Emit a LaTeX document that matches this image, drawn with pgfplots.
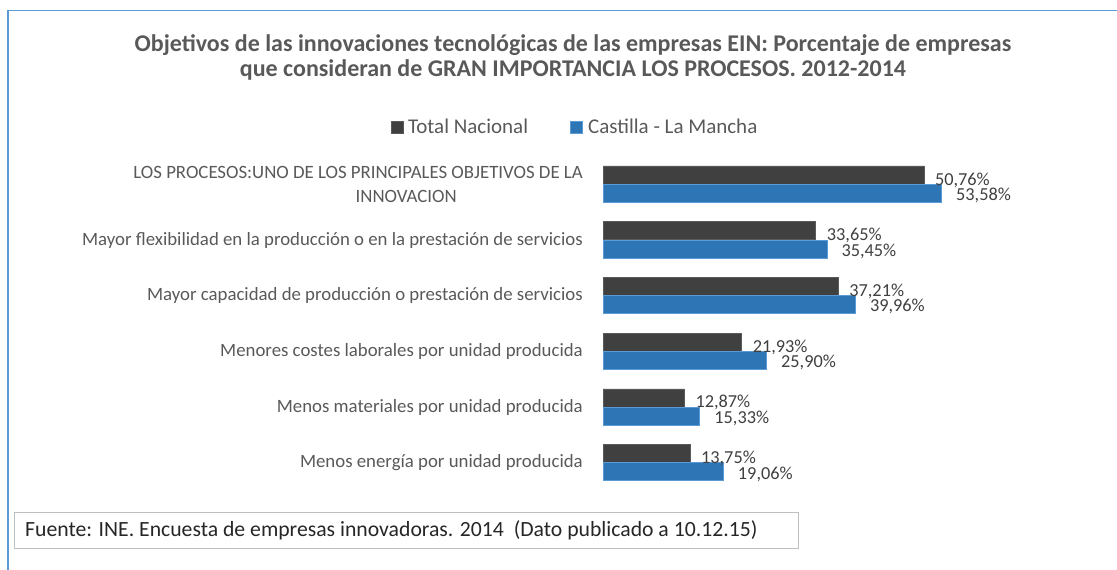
\documentclass[border=0pt]{standalone}
\usepackage{pgfplots}
\pgfplotsset{compat=1.18}
\usepackage{fontspec}
\setmainfont{Carlito}
\definecolor{txt}{HTML}{595959}
\definecolor{darkbar}{HTML}{404040}
\definecolor{darkedge}{HTML}{5A5A5A}
\definecolor{bluebar}{HTML}{2E75B6}
\definecolor{blueedge}{HTML}{5B9BD5}
\definecolor{frameblue}{HTML}{5B9BD5}
\begin{document}
\begin{tikzpicture}[x=1pt,y=1pt]
\path[use as bounding box] (0,0) rectangle (1117,570);
\draw[frameblue, line width=1.5pt] (8,0) -- (8,559.5) -- (1117,559.5);
\node[font=\bfseries\fontsize{24}{25}\selectfont, text=txt, align=center] at (573,512.5)
  {Objetivos de las innovaciones tecnológicas de las empresas EIN: Porcentaje de empresas\\que consideran de GRAN IMPORTANCIA LOS PROCESOS. 2012-2014};
\begin{axis}[
  at={(792.6pt,246.25pt)}, anchor=center,
  width=379.2pt, height=334.2pt, scale only axis,
  xmin=0, xmax=60, ymin=-0.5, ymax=5.5,
  axis line style={draw=none},
  major tick length=0pt,
  xtick=\empty,
  ytick={0,1,2,3,4,5},
  yticklabels={Menos energía por unidad producida,
    Menos materiales por unidad producida,
    Menores costes laborales por unidad producida,
    Mayor capacidad de producción o prestación de servicios,
    Mayor flexibilidad en la producción o en la prestación de servicios,
    {LOS PROCESOS:UNO DE LOS PRINCIPALES OBJETIVOS DE LA\\INNOVACION\hspace*{126pt}}},
  yticklabel style={font=\fontsize{18.8}{24}\selectfont, text=txt, align=right, anchor=east, inner sep=0pt, xshift=-20pt},
  xbar, bar width=18pt,
  /pgf/number format/assume math mode=true,
  nodes near coords={\pgfmathprintnumber[fixed, fixed zerofill, precision=2, use comma]{\pgfplotspointmeta}\%},
  nodes near coords style={font=\fontsize{18.3}{20}\selectfont, text=darkbar, anchor=west, inner sep=0pt},
  legend columns=2,
  legend style={at={(-0.0738,1.0887)}, anchor=center, draw=none, fill=none,
    font=\fontsize{21}{24}\selectfont, text=txt,
    /tikz/every odd column/.append style={column sep=3pt},
    /tikz/every even column/.append style={column sep=40pt}},
  legend image code/.code={\fill[#1] (0pt,-6pt) rectangle (12pt,6pt);},
]
\addplot[fill=darkbar, draw=darkedge, bar shift=9.5pt,
  every node near coord/.append style={xshift=11pt, yshift=-5pt}] coordinates {
  (13.75,0) (12.87,1) (21.93,2) (37.21,3) (33.65,4) (50.76,5)};
\addplot[fill=bluebar, draw=blueedge, line width=1pt, bar shift=-9pt,
  every node near coord/.append style={xshift=14pt, yshift=-2pt}] coordinates {
  (19.06,0) (15.33,1) (25.90,2) (39.96,3) (35.45,4) (53.58,5)};
\legend{Total Nacional, Castilla - La Mancha}
\end{axis}
\draw[black!25, line width=0.8pt] (14,22) rectangle (798,58);
\node[anchor=west, font=\fontsize{21.7}{24}\selectfont, text=black!85, inner sep=0pt] at (25,40)
  {Fuente: INE. Encuesta de empresas innovadoras. 2014 \ (Dato publicado a 10.12.15)};
\end{tikzpicture}
\end{document}
